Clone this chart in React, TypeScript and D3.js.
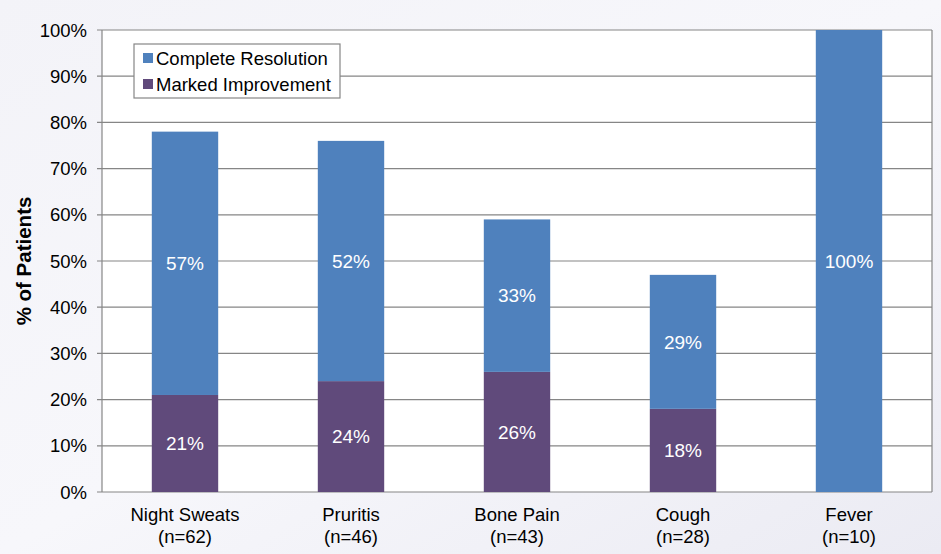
import * as d3 from "d3";
import { useEffect, useRef } from "react";

const categories = ["Night Sweats", "Pruritis", "Bone Pain", "Cough", "Fever"];
const sampleSizes = ["(n=62)", "(n=46)", "(n=43)", "(n=28)", "(n=10)"];
const markedImprovement = [21, 24, 26, 18, 0];
const completeResolution = [57, 52, 33, 29, 100];
const yTicks = [0, 10, 20, 30, 40, 50, 60, 70, 80, 90, 100];

const W = 941;
const H = 554;
const FONT = "'Liberation Sans', Arial, sans-serif";
const FS = 18.5;

export default function App() {
  const ref = useRef<SVGSVGElement | null>(null);

  useEffect(() => {
    if (!ref.current) return;
    const svg = d3.select(ref.current);
    svg.selectAll("*").remove();

    const margin = { top: 30, right: 9, bottom: 62, left: 102 };
    const innerW = W - margin.left - margin.right;
    const innerH = H - margin.top - margin.bottom;

    // soft page background
    const defs = svg.append("defs");
    const grad = defs.append("linearGradient")
      .attr("id", "bg")
      .attr("x1", "0").attr("y1", "0").attr("x2", "1").attr("y2", "1");
    grad.append("stop").attr("offset", "0%").attr("stop-color", "#f3f3f8");
    grad.append("stop").attr("offset", "50%").attr("stop-color", "#f7f7fb");
    grad.append("stop").attr("offset", "100%").attr("stop-color", "#ebebf3");
    svg.append("rect").attr("width", W).attr("height", H).attr("fill", "url(#bg)");

    const x = d3.scaleBand<string>()
      .domain(categories)
      .range([0, innerW])
      .paddingInner(0.6)
      .paddingOuter(0.3);

    const y = d3.scaleLinear().domain([0, 100]).range([innerH, 0]);

    const g = svg.append("g")
      .attr("transform", `translate(${margin.left},${margin.top})`);

    g.append("rect")
      .attr("width", innerW)
      .attr("height", innerH)
      .attr("fill", "#ffffff");

    // gridlines + ticks
    g.selectAll("line.grid")
      .data(yTicks)
      .enter()
      .append("line")
      .attr("x1", -5)
      .attr("x2", innerW)
      .attr("y1", d => y(d))
      .attr("y2", d => y(d))
      .attr("stroke", "#868686")
      .attr("stroke-width", 1.2);

    g.append("line")
      .attr("x1", 0).attr("x2", 0)
      .attr("y1", 0).attr("y2", innerH)
      .attr("stroke", "#868686").attr("stroke-width", 1.2);
    g.append("line")
      .attr("x1", innerW).attr("x2", innerW)
      .attr("y1", 0).attr("y2", innerH)
      .attr("stroke", "#868686").attr("stroke-width", 1.2);

    g.selectAll("text.ytick")
      .data(yTicks)
      .enter()
      .append("text")
      .attr("x", -15)
      .attr("y", d => y(d))
      .attr("dy", "0.36em")
      .attr("text-anchor", "end")
      .attr("font-family", FONT)
      .attr("font-size", FS)
      .attr("fill", "#000")
      .text(d => `${d}%`);

    const rows = categories.map((c, i) => ({
      cat: c,
      mi: markedImprovement[i],
      cr: completeResolution[i],
    }));

    // stacked bars
    const bars = g.selectAll("g.bar").data(rows).enter().append("g");
    bars.append("rect")
      .attr("x", d => x(d.cat)!)
      .attr("width", x.bandwidth())
      .attr("y", d => y(d.mi))
      .attr("height", d => innerH - y(d.mi))
      .attr("fill", "#604a7b");
    bars.append("rect")
      .attr("x", d => x(d.cat)!)
      .attr("width", x.bandwidth())
      .attr("y", d => y(d.mi + d.cr))
      .attr("height", d => y(d.mi) - y(d.mi + d.cr))
      .attr("fill", "#4f81bd");

    bars.filter(d => d.mi > 0).append("text")
      .attr("x", d => x(d.cat)! + x.bandwidth() / 2)
      .attr("y", d => y(d.mi / 2))
      .attr("dy", "0.36em")
      .attr("text-anchor", "middle")
      .attr("font-family", FONT)
      .attr("font-size", 19)
      .attr("fill", "#fff")
      .text(d => `${d.mi}%`);
    bars.append("text")
      .attr("x", d => x(d.cat)! + x.bandwidth() / 2)
      .attr("y", d => y(d.mi + d.cr / 2))
      .attr("dy", "0.36em")
      .attr("text-anchor", "middle")
      .attr("font-family", FONT)
      .attr("font-size", 19)
      .attr("fill", "#fff")
      .text(d => `${d.cr}%`);

    // x labels
    const xl = g.selectAll("text.xl").data(categories).enter().append("text")
      .attr("text-anchor", "middle")
      .attr("font-family", FONT)
      .attr("font-size", FS)
      .attr("fill", "#000");
    xl.append("tspan")
      .attr("x", d => x(d)! + x.bandwidth() / 2)
      .attr("y", innerH + 29)
      .text(d => d);
    xl.append("tspan")
      .attr("x", d => x(d)! + x.bandwidth() / 2)
      .attr("y", innerH + 51)
      .text((_, i) => sampleSizes[i]);

    // y title
    svg.append("text")
      .attr("transform", `translate(31,${margin.top + innerH / 2}) rotate(-90)`)
      .attr("text-anchor", "middle")
      .attr("font-family", FONT)
      .attr("font-size", 20.5)
      .attr("font-weight", "bold")
      .attr("fill", "#000")
      .text("% of Patients");

    // legend
    const lg = svg.append("g").attr("transform", "translate(134,44)");
    lg.append("rect")
      .attr("width", 206)
      .attr("height", 54)
      .attr("fill", "#fff")
      .attr("stroke", "#868686")
      .attr("stroke-width", 1.2);
    const items = [
      { label: "Complete Resolution", color: "#4f81bd" },
      { label: "Marked Improvement", color: "#604a7b" },
    ];
    items.forEach((it, i) => {
      const yy = 14 + i * 26;
      lg.append("rect")
        .attr("x", 9).attr("y", yy - 5)
        .attr("width", 10).attr("height", 10)
        .attr("fill", it.color);
      lg.append("text")
        .attr("x", 22).attr("y", yy)
        .attr("dy", "0.36em")
        .attr("font-family", FONT)
        .attr("font-size", FS)
        .attr("fill", "#000")
        .text(it.label);
    });
  }, []);

  return (
    <div style={{ position: "absolute", left: 0, top: 0 }}>
      <svg ref={ref} width={W} height={H} style={{ display: "block" }} />
    </div>
  );
}
